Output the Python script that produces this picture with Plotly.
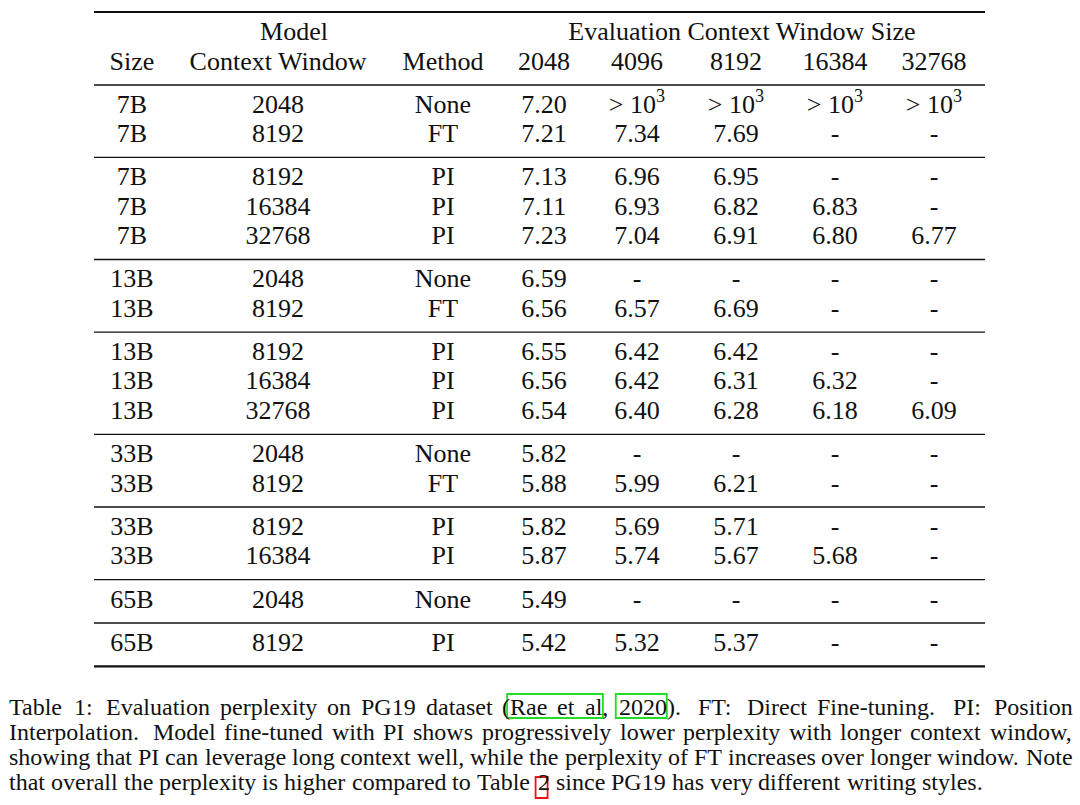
import numpy as np
import plotly.graph_objects as go

# ---- table data (PG19 perplexity) ----
SIZES = ["7B", "7B", "7B", "7B", "7B", "13B", "13B", "13B", "13B", "13B",
         "33B", "33B", "33B", "33B", "65B", "65B"]
MODEL_CTX = ["2048", "8192", "8192", "16384", "32768", "2048", "8192", "8192",
             "16384", "32768", "2048", "8192", "8192", "16384", "2048", "8192"]
METHODS = ["None", "FT", "PI", "PI", "PI", "None", "FT", "PI", "PI", "PI",
           "None", "FT", "PI", "PI", "None", "PI"]
EVAL_WINDOWS = ["2048", "4096", "8192", "16384", "32768"]

INF = np.inf   # shown as "> 10^3"
NA = None      # shown as "-"
PPL_2048 = [7.20, 7.21, 7.13, 7.11, 7.23, 6.59, 6.56, 6.55, 6.56, 6.54,
            5.82, 5.88, 5.82, 5.87, 5.49, 5.42]
PPL_4096 = [INF, 7.34, 6.96, 6.93, 7.04, NA, 6.57, 6.42, 6.42, 6.40,
            NA, 5.99, 5.69, 5.74, NA, 5.32]
PPL_8192 = [INF, 7.69, 6.95, 6.82, 6.91, NA, 6.69, 6.42, 6.31, 6.28,
            NA, 6.21, 5.71, 5.67, NA, 5.37]
PPL_16384 = [INF, NA, NA, 6.83, 6.80, NA, NA, NA, 6.32, 6.18,
             NA, NA, NA, 5.68, NA, NA]
PPL_32768 = [INF, NA, NA, NA, 6.77, NA, NA, NA, NA, 6.09,
             NA, NA, NA, NA, NA, NA]
GROUP_SIZES = [2, 3, 2, 3, 2, 2, 1, 1]

CAPTION_LINES = [
    "Table 1: Evaluation perplexity on PG19 dataset (Rae et al, 2020). FT: Direct Fine-tuning. PI: Position",
    "Interpolation. Model fine-tuned with PI shows progressively lower perplexity with longer context window,",
    "showing that PI can leverage long context well, while the perplexity of FT increases over longer window. Note",
    "that overall the perplexity is higher compared to Table 2 since PG19 has very different writing styles.",
]

FONT = "Liberation Serif, Times New Roman, serif"
INK = "#111111"

# Times-Roman advance widths (per 1000 em), used to justify the caption
TIMES_W = {" ": 250, "(": 333, ")": 333, ",": 250, "-": 333, ".": 250, ":": 278,
           "A": 722, "B": 667, "C": 667, "D": 722, "E": 611, "F": 556, "G": 722,
           "H": 722, "I": 333, "J": 389, "K": 722, "L": 611, "M": 889, "N": 722,
           "O": 722, "P": 556, "Q": 722, "R": 667, "S": 556, "T": 611, "U": 722,
           "V": 722, "W": 944, "X": 722, "Y": 722, "Z": 611,
           "a": 444, "b": 500, "c": 444, "d": 500, "e": 444, "f": 333, "g": 500,
           "h": 500, "i": 278, "j": 278, "k": 500, "l": 278, "m": 778, "n": 500,
           "o": 500, "p": 500, "q": 500, "r": 333, "s": 389, "t": 278, "u": 500,
           "v": 500, "w": 722, "x": 500, "y": 500, "z": 444}


def text_w(s, size):
    return sum(TIMES_W.get(c, 500) for c in s) * size / 1000


def fmt(v):
    if v is None:
        return "-"
    if np.isinf(v):
        return "> 10<sup>3</sup>"
    return f"{v:.2f}"


def layout_line(line, size, x0, x1, justify):
    words = line.split(" ")
    widths = [text_w(w, size) for w in words]
    space = text_w(" ", size)
    weights = []
    for w in words[:-1]:
        weights.append(3.0 if w.endswith(".") else 2.0 if w.endswith(":")
                       else 1.25 if w.endswith(",") else 1.0)
    extra = (x1 - x0) - sum(widths) - space * len(weights) if justify else 0
    if extra < 0:
        weights = [1.0] * len(weights)
    xs, x = [], x0
    for i, w in enumerate(words):
        xs.append(x)
        if i < len(weights):
            x += widths[i] + space + extra * weights[i] / sum(weights)
    return list(zip(words, xs))


# ---- layout (pixel coordinates) ----
COL_X = [132, 278, 443, 544, 637, 736, 835, 934]
X_LEFT, X_RIGHT = 94, 985
FIRST_ROW, ROW_STEP, GROUP_GAP = 106, 29.4, 43.3
CAP_SIZE, CAP_X0, CAP_X1, CAP_Y0, CAP_STEP = 24, 8, 1072, 707, 25

row_y, rules = [], []
y = FIRST_ROW
for g in GROUP_SIZES:
    for i in range(g):
        row_y.append(y)
        if i < g - 1:
            y += ROW_STEP
    rules.append(y + 22)
    y += GROUP_GAP

columns = [SIZES, MODEL_CTX, METHODS] + [
    [fmt(v) for v in col] for col in (PPL_2048, PPL_4096, PPL_8192, PPL_16384, PPL_32768)
]

fig = go.Figure()
for cx, col in zip(COL_X, columns):
    fig.add_trace(go.Scatter(
        x=[cx] * len(col), y=row_y, text=col, mode="text",
        textposition="middle center",
        textfont=dict(family=FONT, size=26, color=INK),
        showlegend=False, hoverinfo="skip",
    ))

# header rows
header2 = ["Size", "Context Window", "Method"] + EVAL_WINDOWS
fig.add_trace(go.Scatter(
    x=COL_X, y=[63] * len(COL_X), text=header2, mode="text",
    textposition="middle center",
    textfont=dict(family=FONT, size=26, color=INK),
    showlegend=False, hoverinfo="skip",
))
fig.add_trace(go.Scatter(
    x=[294, 742], y=[33, 33], text=["Model", "Evaluation Context Window Size"],
    mode="text", textposition="middle center",
    textfont=dict(family=FONT, size=26, color=INK),
    showlegend=False, hoverinfo="skip",
))

# booktabs rules
fig.add_shape(type="line", x0=X_LEFT, x1=X_RIGHT, y0=12, y1=12,
              line=dict(color=INK, width=2.2))
fig.add_shape(type="line", x0=X_LEFT, x1=X_RIGHT, y0=85, y1=85,
              line=dict(color=INK, width=1.3))
for i, ry in enumerate(rules):
    last = i == len(rules) - 1
    fig.add_shape(type="line", x0=X_LEFT, x1=X_RIGHT, y0=ry, y1=ry,
                  line=dict(color=INK, width=2.2 if last else 1.3))

# caption, justified word by word (last line ragged)
placed = {}
for li, line in enumerate(CAPTION_LINES):
    cy = CAP_Y0 + li * CAP_STEP
    words = layout_line(line, CAP_SIZE, CAP_X0, CAP_X1,
                        justify=li < len(CAPTION_LINES) - 1)
    for w, wx in words:
        placed.setdefault((li, w), wx)
        fig.add_annotation(
            x=wx, y=cy, text=w, showarrow=False,
            xanchor="left", yanchor="middle", borderpad=0,
            font=dict(family=FONT, size=CAP_SIZE, color=INK),
        )

# citation link boxes (hyperref style)
rae_x = placed[(0, "(Rae")] + text_w("(", CAP_SIZE)
al_end = placed[(0, "al,")] + text_w("al", CAP_SIZE)
yr_x = placed[(0, "2020).")]
yr_end = yr_x + text_w("2020", CAP_SIZE)
for x0, x1 in [(rae_x - 2, al_end + 2), (yr_x - 2, yr_end + 1)]:
    fig.add_shape(type="rect", x0=x0, x1=x1, y0=694, y1=718,
                  line=dict(color="#22dd22", width=1.8))
two_x = placed[(3, "2")]
fig.add_shape(type="rect", x0=two_x - 1, x1=two_x + text_w("2", CAP_SIZE) - 1,
              y0=777, y1=798, line=dict(color="#ee1111", width=1.8))

fig.update_xaxes(range=[0, 1080], visible=False, fixedrange=True)
fig.update_yaxes(range=[805, 0], visible=False, fixedrange=True)
fig.update_layout(
    width=1080, height=805,
    margin=dict(l=0, r=0, t=0, b=0),
    paper_bgcolor="white", plot_bgcolor="white",
)
fig.write_html("out.html", config={"displayModeBar": False},
               post_script="document.body.style.margin='0px';")
